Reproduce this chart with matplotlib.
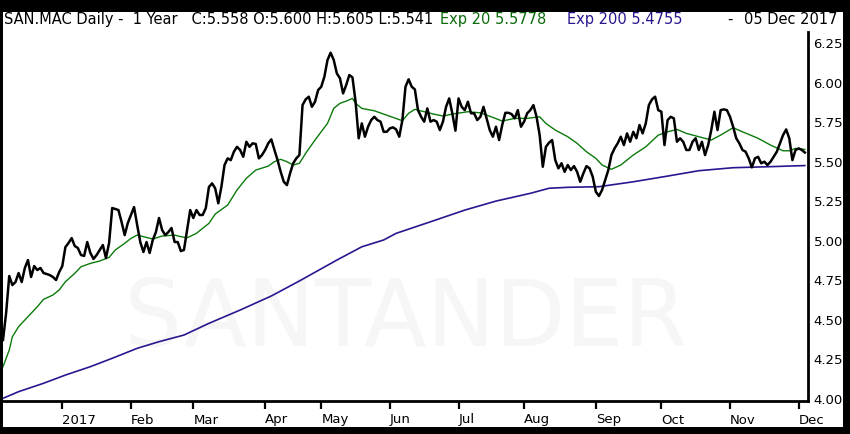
import numpy as np
import pandas as pd
import matplotlib
matplotlib.use("Agg")
import matplotlib.pyplot as plt
from matplotlib.patches import Rectangle

# ---------------------------------------------------------
# DATA
# ---------------------------------------------------------
start_date = "2016-12-05"
end_date = "2017-12-05"
holidays = ["2016-12-26", "2017-04-14", "2017-04-17", "2017-05-01"]

# daily closes, one per trading session
close = [
    4.373, 4.543, 4.777, 4.720, 4.739, 4.796, 4.739, 4.828, 4.878, 4.771,
    4.840, 4.815, 4.828, 4.796, 4.790, 4.783, 4.771, 4.752, 4.802, 4.840,
    4.960, 4.986, 5.017, 4.967, 4.954, 4.910, 4.904, 4.992, 4.923, 4.885,
    4.910, 4.942, 4.973, 4.891, 4.986, 5.207, 5.201, 5.194, 5.119, 5.036,
    5.112, 5.163, 5.213, 5.100, 4.992, 4.929, 4.992, 4.923, 5.005, 5.055,
    5.144, 5.068, 5.036, 5.055, 5.081, 4.992, 4.992, 4.935, 4.942, 5.068,
    5.194, 5.144, 5.194, 5.163, 5.163, 5.207, 5.340,
    5.363, 5.332, 5.237, 5.342, 5.479, 5.521, 5.510, 5.563, 5.594, 5.574,
    5.531, 5.626, 5.594, 5.616, 5.612, 5.521, 5.542, 5.574, 5.616, 5.641,
    5.574, 5.510, 5.436, 5.373, 5.352, 5.426, 5.490, 5.521, 5.542, 5.858,
    5.894, 5.911, 5.847, 5.879, 5.953, 5.974, 6.037, 6.143, 6.189, 6.143,
    6.058, 6.027, 5.932, 5.985, 6.048, 6.033, 5.879, 5.648, 5.742, 5.658,
    5.721, 5.763, 5.784, 5.763, 5.753, 5.689, 5.689, 5.711, 5.717, 5.704,
    5.658,
    5.763, 5.974, 6.021, 5.974, 5.957, 5.826, 5.784, 5.753, 5.837, 5.753,
    5.763, 5.753, 5.700, 5.753, 5.847, 5.900, 5.806, 5.696, 5.900, 5.847,
    5.826, 5.879, 5.806, 5.806, 5.763, 5.784, 5.847, 5.774, 5.700, 5.658,
    5.721, 5.637, 5.732, 5.809, 5.809, 5.801, 5.774, 5.826, 5.721, 5.753,
    5.806, 5.826, 5.858, 5.784, 5.668, 5.468, 5.594, 5.620, 5.637, 5.510,
    5.458, 5.490, 5.436, 5.479, 5.447, 5.472, 5.436, 5.373, 5.426, 5.472,
    5.458, 5.405, 5.310, 5.283, 5.321, 5.384,
    5.447, 5.542, 5.584, 5.616, 5.658, 5.605, 5.679, 5.626, 5.689, 5.648,
    5.732, 5.679, 5.742, 5.858, 5.894, 5.911, 5.826, 5.816, 5.605, 5.763,
    5.784, 5.774, 5.626, 5.648, 5.626, 5.574, 5.574, 5.626, 5.648, 5.574,
    5.626, 5.542, 5.605, 5.700, 5.816, 5.700, 5.826, 5.831, 5.826, 5.784,
    5.721, 5.648, 5.616, 5.574, 5.563, 5.521, 5.464, 5.521, 5.531, 5.490,
    5.500, 5.479, 5.500, 5.531, 5.563, 5.616, 5.668, 5.704, 5.648, 5.510,
    5.574, 5.584, 5.574, 5.558,
]

# EMA 20, read at selected sessions
ema20_day = [0, 2, 3, 5, 8, 11, 13, 16, 18, 20, 23, 25, 28, 31, 34, 36, 39, 41,
             43, 45, 48, 51, 55, 57, 59, 62, 64, 66, 68, 72, 75, 78, 81, 85, 87,
             89, 91, 93, 95, 97, 100, 104, 106, 108, 110, 112, 113, 115, 119,
             122, 125, 128, 130, 132, 135, 138, 141, 144, 149, 153, 157, 160,
             164, 168, 172, 174, 177, 181, 184, 187, 190, 192, 195, 198, 202,
             206, 210, 213, 216, 219, 223, 227, 230, 234, 237, 242, 246, 250,
             252, 254, 257]
ema20 = [4.204, 4.309, 4.393, 4.457, 4.520, 4.583, 4.630, 4.657, 4.689, 4.741,
         4.794, 4.836, 4.857, 4.872, 4.895, 4.942, 4.984, 5.015, 5.036, 5.026,
         5.011, 5.030, 5.036, 5.026, 5.019, 5.047, 5.079, 5.110, 5.169, 5.226,
         5.321, 5.395, 5.447, 5.472, 5.500, 5.515, 5.500, 5.479, 5.490, 5.553,
         5.637, 5.742, 5.837, 5.869, 5.883, 5.900, 5.869, 5.837, 5.822, 5.801,
         5.780, 5.759, 5.806, 5.831, 5.816, 5.801, 5.789, 5.801, 5.816, 5.809,
         5.780, 5.757, 5.774, 5.774, 5.784, 5.742, 5.700, 5.658, 5.616, 5.563,
         5.521, 5.479, 5.452, 5.479, 5.542, 5.594, 5.668, 5.689, 5.704, 5.679,
         5.658, 5.637, 5.668, 5.715, 5.689, 5.648, 5.605, 5.569, 5.569, 5.584,
         5.5778]

# EMA 200, read at selected sessions
ema200_day = [0, 5, 13, 20, 28, 35, 43, 50, 58, 66, 76, 86, 95, 107, 115, 122,
              126, 137, 148, 158, 169, 175, 181, 191, 202, 213, 223, 234, 245, 257]
ema200 = [4.004, 4.046, 4.099, 4.151, 4.204, 4.257, 4.320, 4.362, 4.404, 4.478,
          4.562, 4.651, 4.746, 4.878, 4.962, 5.005, 5.047, 5.120, 5.194, 5.251,
          5.300, 5.332, 5.338, 5.342, 5.373, 5.409, 5.443, 5.462, 5.468, 5.4755]

y_ticks = [4.00, 4.25, 4.50, 4.75, 5.00, 5.25, 5.50, 5.75, 6.00, 6.25]

header_black = "SAN.MAC Daily -  1 Year   C:5.558 O:5.600 H:5.605 L:5.541"
header_exp20 = "Exp 20 5.5778"
header_exp200 = "Exp 200 5.4755"
header_dash = "-"
header_date = "05 Dec 2017"

# ---------------------------------------------------------
# TRADING CALENDAR
# ---------------------------------------------------------
dates = pd.bdate_range(start_date, end_date)
dates = dates[~dates.isin(pd.to_datetime(holidays))]
day = np.arange(len(close))

month_pos, month_lab = [], []
for m in range(1, 13):
    sel = np.where((dates.year == 2017) & (dates.month == m))[0]
    month_pos.append(sel[0])
    month_lab.append("2017" if m == 1 else dates[sel[0]].strftime("%b"))

# ---------------------------------------------------------
# PLOTTING
# ---------------------------------------------------------
W, H = 850, 434
fig = plt.figure(figsize=(W / 100, H / 100), dpi=100, facecolor="black")
fig.add_artist(Rectangle((3 / W, 7 / H), 840 / W, 415 / H,
                         transform=fig.transFigure, facecolor="white",
                         edgecolor="none", zorder=-5))

ax = fig.add_axes([3 / W, (H - 401) / H, 805 / W, 369 / H])
ax.set_facecolor("white")

ax.text(0.5, 0.22, "SANTANDER", transform=ax.transAxes, ha="center",
        va="center", fontsize=66, color="#f6f6f6", zorder=0)

ax.plot(ema200_day, ema200, color="#2c168f", lw=1.2, zorder=2)
ax.plot(ema20_day, ema20, color="#0b7a0b", lw=1.0, zorder=3)
ax.plot(day, close, color="black", lw=1.8, zorder=4,
        solid_joinstyle="round")

ax.set_xlim(0, 258)
ax.set_ylim(3.987, 6.32)

for s in ["left", "top"]:
    ax.spines[s].set_visible(False)
ax.spines["bottom"].set_linewidth(2)
ax.spines["right"].set_linewidth(2)

ax.yaxis.tick_right()
ax.set_yticks(y_ticks)
ax.set_yticklabels([f"{v:.2f}" for v in y_ticks], fontsize=9.5)
ax.tick_params(axis="y", length=0, pad=4)

ax.set_xticks(month_pos)
ax.set_xticklabels(month_lab, fontsize=9.5, ha="left",
                   family=["Liberation Sans Narrow", "DejaVu Sans"])
ax.tick_params(axis="x", length=6, width=1.6, pad=3, direction="out")

ty = 1 - 24 / H
fs = 10.5
fig.text(4 / W, ty, header_black, fontsize=fs, color="black", va="baseline")
fig.text(440 / W, ty, header_exp20, fontsize=fs, color="#0b6b0b", va="baseline")
fig.text(567 / W, ty, header_exp200, fontsize=fs, color="#2c168f", va="baseline")
fig.text(727 / W, ty, header_dash, fontsize=fs, color="black", va="baseline")
fig.text(838 / W, ty, header_date, fontsize=fs, color="black", va="baseline",
         ha="right")

fig.savefig("out.png", dpi=100, facecolor="black")
